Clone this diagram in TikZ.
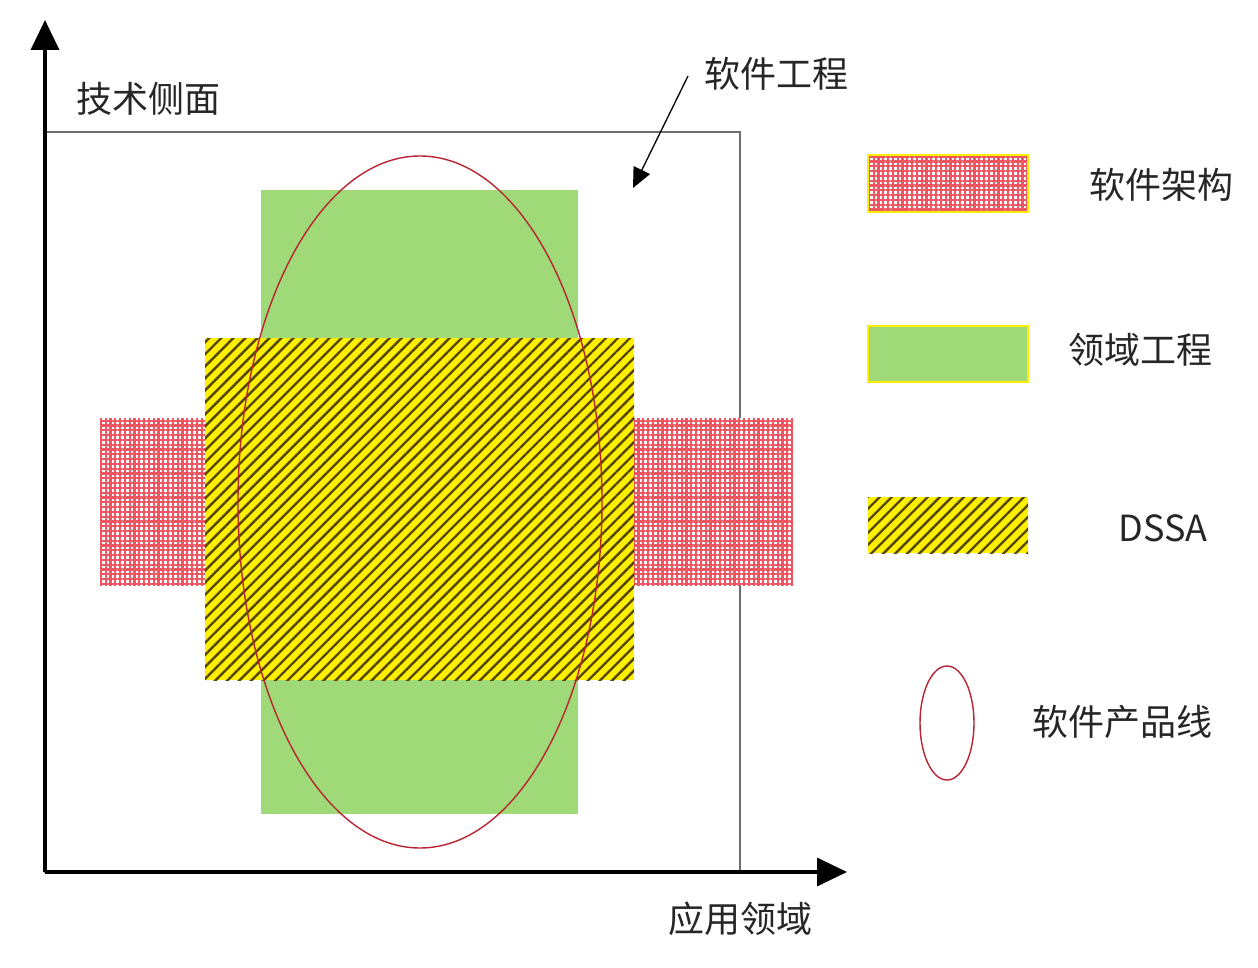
\documentclass[tikz,border=0pt]{standalone}
\usepackage{fontspec}
\setmainfont{Noto Sans CJK SC}
\usetikzlibrary{patterns.meta,arrows.meta}
\definecolor{dgreen}{RGB}{160,218,120}
\definecolor{hyellow}{RGB}{255,240,0}
\definecolor{stripe}{RGB}{85,70,0}
\definecolor{checkred}{RGB}{240,85,98}
\definecolor{ellred}{RGB}{185,35,50}
\definecolor{boxgray}{RGB}{110,110,110}
\tikzset{
  lbl/.style={font=\fontsize{36pt}{40pt}\selectfont, text=black!85, inner sep=0pt},
  axis/.style={line width=3.5pt, -{Triangle[length=30pt,width=28pt]}},
  greenbox/.style={fill=dgreen},
  dssabox/.style={fill=hyellow, postaction={pattern={Lines[angle=45,distance=8.5pt,line width=2.4pt]}, pattern color=stripe}},
  archbox/.style={fill=white, postaction={pattern={Hatch[angle=0,distance=4.8pt,line width=2.2pt]}, pattern color=checkred}},
  legborder/.style={draw=hyellow, line width=1.2pt},
  prodline/.style={draw=ellred, line width=1.4pt},
}
\begin{document}
\begin{tikzpicture}[x=1pt,y=-1pt]
\useasboundingbox (0,0) rectangle (1258,968);
% software engineering frame
\draw[boxgray, line width=1.3pt] (45,132) rectangle (740,872);
% domain engineering
\path[greenbox] (261,190) rectangle (578,814);
% software architecture
\path[archbox] (100,418) rectangle (205,585);
\path[archbox] (634,418) rectangle (793,585);
% DSSA
\path[dssabox] (205,338) rectangle (634,680);
% product line
\draw[prodline] (420,502) ellipse [x radius=182pt, y radius=346pt];
% axes
\coordinate (o) at (45,872);
\coordinate (ytip) at (45,20);
\coordinate (xtip) at (847,872);
\draw[axis] (o) -- (ytip);
\draw[axis] (o) -- (xtip);
\node[lbl] (tech) at (148,99) {技术侧面};
\node[lbl] (app) at (740,919) {应用领域};
\node[lbl] (se) at (776,74) {软件工程};
\coordinate (sestart) at (688,76);
\coordinate (seend) at (633,188);
\draw[line width=1.3pt, -{Triangle[length=20pt,width=18pt]}] (sestart) -- (seend);
% legend
\path[archbox] (868,155) rectangle (1028,212);
\draw[legborder] (868,155) rectangle (1028,212);
\node[lbl] (l1) at (1161,185) {软件架构};
\path[greenbox] (868,326) rectangle (1028,382);
\draw[legborder] (868,326) rectangle (1028,382);
\node[lbl] (l2) at (1140,350) {领域工程};
\path[dssabox] (868,497) rectangle (1028,553);
\node[lbl] (l3) at (1163,528) {DSSA};
\draw[prodline] (947,723) ellipse [x radius=27pt, y radius=57pt];
\node[lbl] (l4) at (1122,722) {软件产品线};
\end{tikzpicture}
\end{document}
